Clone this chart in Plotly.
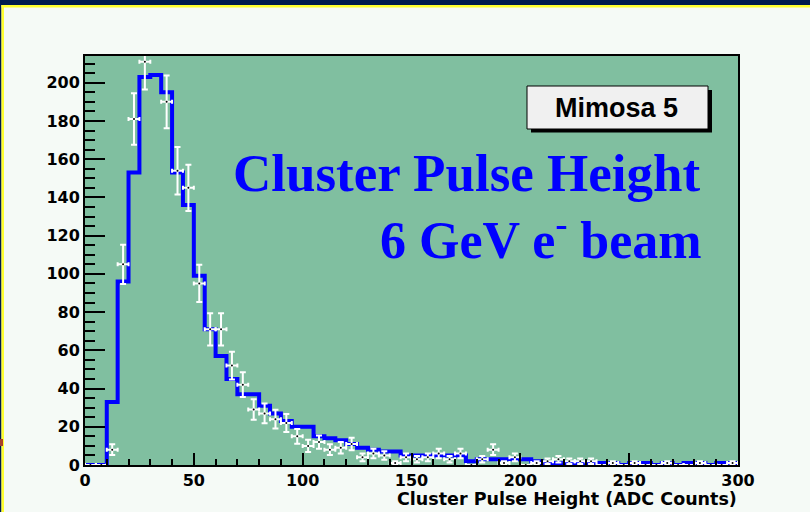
import plotly.graph_objects as go

# ---------------- data ----------------
bin_left = list(range(0, 300, 5))          # histogram bin lower edges (ADC counts)
bin_center = [b + 2.5 for b in bin_left]   # bin centres for the data points
x_max = 300

# simulated histogram (blue line)
mc_counts = [0, 0, 33, 96, 153, 203, 204, 195, 153, 136,
             99, 71, 57, 45, 37, 37, 31, 27, 23, 20,
             20, 15, 14, 13, 11, 9, 8, 7, 7, 5,
             5, 5, 5, 5, 5, 2, 3, 3, 3, 3,
             3, 2, 1, 1, 1, 1, 1, 1, 1, 0,
             1, 1, 0, 1, 0, 1, 1, 0, 1, 1]

# measured data (white points with errors)
data_counts = [0, 0, 8, 105, 181, 211, None, 190, 154, 145,
               95, 71, 71, 52, 42, 29, 27, 24, 22, 15,
               10, 12, 8, 9, 11, 4, 6, 5, 1, 4,
               3, 4, 6, 3, 6, 0, 3, 8, 1, 4,
               0, 1, 2, 3, 2, 2, 2, 0, 1, 0,
               1, 0, 0, 1, 0, 0, 1, 0, 0, 1]

y_ticks = [0, 20, 40, 60, 80, 100, 120, 140, 160, 180, 200]
x_ticks = [0, 50, 100, 150, 200, 250, 300]

# ---------------- layout helpers ----------------
W, H = 810, 512
L, R, T, B = 85, 738, 56, 465


def px_x(p):
    return (p - L) / (R - L)


def px_y(p):
    return (B - p) / (B - T)


NAVY = "#001b4f"
YELLOW = "#ffff30"
PAPER = "#f5faf6"
GREEN = "#80bfa0"

fig = go.Figure()

fig.add_trace(go.Scatter(
    x=bin_left + [x_max], y=mc_counts + [mc_counts[-1]],
    mode="lines", line=dict(color="#0000ff", width=4, shape="hv"),
    hoverinfo="skip", showlegend=False))

fig.add_trace(go.Scatter(
    x=bin_center, y=data_counts, mode="markers",
    marker=dict(color="black", size=2),
    error_y=dict(type="sqrt", color="white", thickness=2, width=3),
    error_x=dict(type="constant", value=2.5, color="white", thickness=2, width=2),
    showlegend=False))

shapes = [
    # navy border strips and yellow line
    dict(type="rect", xref="paper", yref="paper", x0=px_x(0), x1=px_x(W), y0=px_y(0), y1=px_y(5),
         fillcolor=NAVY, line=dict(width=0), layer="above"),
    dict(type="rect", xref="paper", yref="paper", x0=px_x(0), x1=px_x(1.5), y0=px_y(0), y1=px_y(H),
         fillcolor=NAVY, line=dict(width=0), layer="above"),
    dict(type="rect", xref="paper", yref="paper", x0=px_x(1.5), x1=px_x(W), y0=px_y(5), y1=px_y(7.5),
         fillcolor=YELLOW, line=dict(width=0), layer="above"),
    dict(type="rect", xref="paper", yref="paper", x0=px_x(1.5), x1=px_x(4), y0=px_y(5), y1=px_y(H),
         fillcolor=YELLOW, line=dict(width=0), layer="above"),
    dict(type="rect", xref="paper", yref="paper", x0=px_x(0), x1=px_x(3), y0=px_y(439), y1=px_y(446),
         fillcolor="#a8402a", line=dict(width=0), layer="above"),
    # Mimosa 5 box with shadow
    dict(type="rect", xref="paper", yref="paper", x0=px_x(531), x1=px_x(712), y0=px_y(90), y1=px_y(132.5),
         fillcolor="black", line=dict(width=0), layer="above"),
    dict(type="rect", xref="paper", yref="paper", x0=px_x(527), x1=px_x(708), y0=px_y(86), y1=px_y(129),
         fillcolor="#f0f0f0", line=dict(color="black", width=1), layer="above"),
]

annotations = [
    dict(text="<b>Mimosa 5</b>", xref="paper", yref="paper", x=px_x(616), y=px_y(108),
         xanchor="center", yanchor="middle", showarrow=False,
         font=dict(family="Liberation Sans", size=27, color="black")),
    dict(text="<b>Cluster Pulse Height</b>", xref="paper", yref="paper", x=px_x(703), y=px_y(173),
         xanchor="right", yanchor="middle", showarrow=False,
         font=dict(family="Liberation Serif", size=53, color="#0000ff")),
    dict(text="<b>6 GeV e<sup>-</sup> beam</b>", xref="paper", yref="paper", x=px_x(704), y=px_y(236),
         xanchor="right", yanchor="middle", showarrow=False,
         font=dict(family="Liberation Serif", size=52, color="#0000ff")),
    dict(text="Cluster Pulse Height (ADC Counts)", xref="paper", yref="paper", x=px_x(739), y=px_y(499),
         xanchor="right", yanchor="middle", showarrow=False,
         font=dict(family="DejaVu Sans", size=17.5, color="black", weight="bold")),
]

fig.update_layout(
    width=W, height=H, autosize=False,
    margin=dict(l=L, r=W - R, t=T, b=H - B, pad=0),
    paper_bgcolor=PAPER, plot_bgcolor=GREEN,
    shapes=shapes, annotations=annotations,
    showlegend=False,
)

fig.update_xaxes(
    range=[0, x_max], tickvals=x_ticks, ticktext=[str(v) for v in x_ticks],
    ticks="inside", ticklen=12, tickwidth=1.5, tickcolor="black",
    minor=dict(dtick=10, ticks="inside", ticklen=6, tickwidth=1.5, tickcolor="black"),
    showline=True, linecolor="black", linewidth=2, mirror=True,
    showgrid=False, zeroline=False,
    tickfont=dict(family="DejaVu Sans", size=16, color="black", weight="bold"),
)
fig.update_yaxes(
    range=[0, 214], tickvals=y_ticks, ticktext=[str(v) for v in y_ticks],
    ticks="inside", ticklen=20, tickwidth=1.5, tickcolor="black",
    minor=dict(dtick=5, ticks="inside", ticklen=10, tickwidth=1.5, tickcolor="black"),
    showline=True, linecolor="black", linewidth=2, mirror=True,
    showgrid=False, zeroline=False,
    tickfont=dict(family="DejaVu Sans", size=16, color="black", weight="bold"),
)

fig.write_html(
    "out.html",
    config={"displayModeBar": False},
    post_script="document.body.style.margin='0';document.body.style.overflow='hidden';",
)
